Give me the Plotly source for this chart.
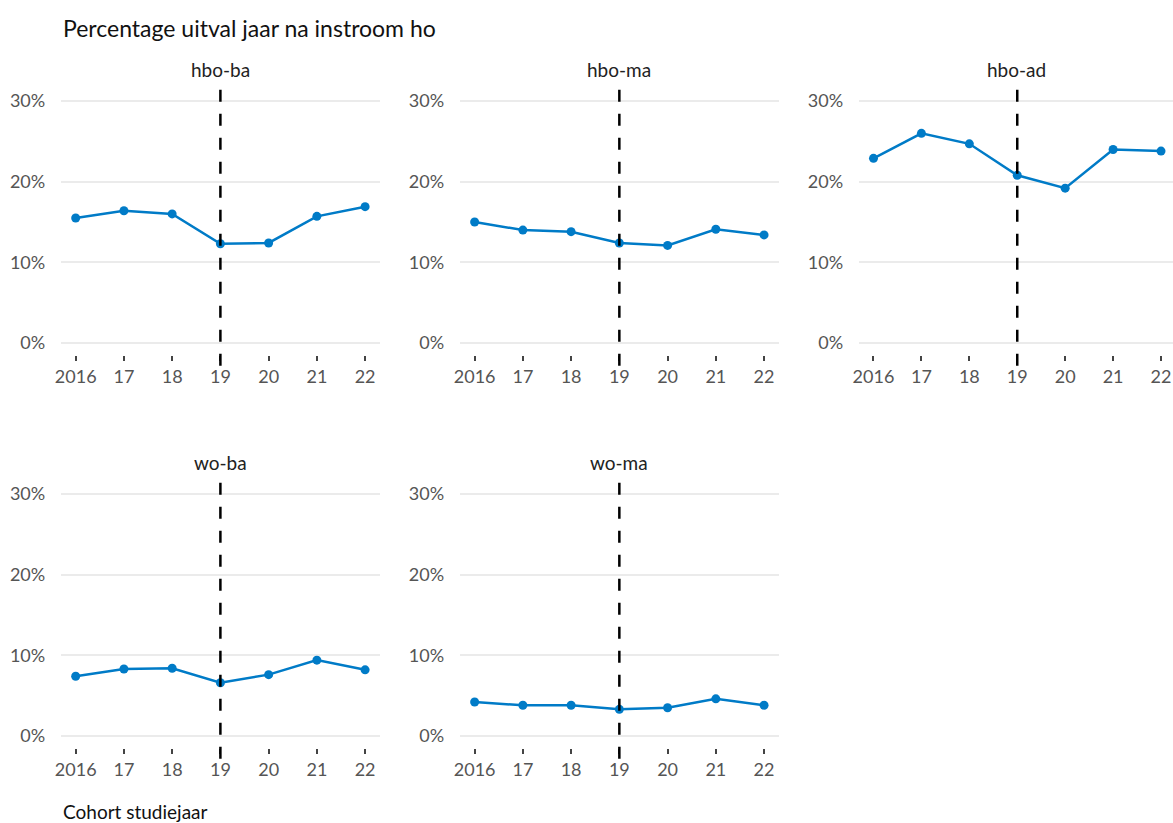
import plotly.graph_objects as go

years = [2016, 2017, 2018, 2019, 2020, 2021, 2022]
year_labels = ["2016", "17", "18", "19", "20", "21", "22"]
panels = ["hbo-ba", "hbo-ma", "hbo-ad", "wo-ba", "wo-ma"]

hbo_ba = [15.5, 16.4, 16.0, 12.3, 12.4, 15.7, 16.9]
hbo_ma = [15.0, 14.0, 13.8, 12.4, 12.1, 14.1, 13.4]
hbo_ad = [22.9, 26.0, 24.7, 20.8, 19.2, 24.0, 23.8]
wo_ba = [7.4, 8.3, 8.4, 6.6, 7.6, 9.4, 8.2]
wo_ma = [4.2, 3.8, 3.8, 3.3, 3.5, 4.6, 3.8]
series = [hbo_ba, hbo_ma, hbo_ad, wo_ba, wo_ma]

y_ticks = [0, 10, 20, 30]
y_tick_labels = ["0%", "10%", "20%", "30%"]
cutoff_year = 2019

title_text = "Percentage uitval jaar na instroom ho"
x_title = "Cohort studiejaar"

W, H = 1173, 823
FONT = "Lato"
BLUE = "#007BC7"

def px_x(p):
    return p / W

def px_y(p):
    return 1 - p / H

col_dom = [
    [px_x(55.5), px_x(375.5)],
    [px_x(456.5), px_x(776.5)],
    [px_x(857.5), 1.0],
]
row_dom = [
    [px_y(355), px_y(89)],
    [px_y(748), px_y(482)],
]
positions = [(0, 0), (0, 1), (0, 2), (1, 0), (1, 1)]

fig = go.Figure()
layout = {}
for i, (name, vals) in enumerate(zip(panels, series)):
    r, c = positions[i]
    n = "" if i == 0 else str(i + 1)
    fig.add_trace(go.Scatter(
        x=years, y=vals, mode="lines+markers",
        line=dict(color=BLUE, width=2.5),
        marker=dict(color=BLUE, size=9),
        xaxis="x" + n, yaxis="y" + n, showlegend=False,
        hoverinfo="x+y",
    ))
    xr = [2015.7, 2022.3] if c < 2 else [2015.7, 2022.25]
    layout["xaxis" + n] = dict(
        domain=col_dom[c], range=xr, anchor="y" + n,
        tickmode="array", tickvals=years, ticktext=year_labels,
        ticks="outside", ticklen=5, tickwidth=2, tickcolor="#444",
        showgrid=False, zeroline=False, showline=False,
        tickfont=dict(family=FONT, size=18, color="#555"),
        fixedrange=True,
    )
    layout["yaxis" + n] = dict(
        domain=row_dom[r], range=[-1.5, 31.5], anchor="x" + n,
        tickmode="array", tickvals=y_ticks, ticktext=y_tick_labels,
        showgrid=True, gridcolor="#EBEBEB", gridwidth=2,
        zeroline=False, showline=False, ticks="",
        ticklabelstandoff=15,
        tickfont=dict(family=FONT, size=18, color="#555"),
        fixedrange=True,
    )
    fig.add_shape(
        type="line", xref="x" + n, yref="y" + n + " domain",
        x0=cutoff_year, x1=cutoff_year, y0=-0.04, y1=1.0,
        line=dict(color="black", width=2.5, dash="12px,12px"),
        layer="above",
    )
    fig.add_annotation(
        text=name, xref="x" + n + " domain", yref="paper",
        x=0.5, y=px_y(69 if r == 0 else 462), xanchor="center", yanchor="middle",
        showarrow=False, font=dict(family=FONT, size=19, color="#222"),
    )

fig.add_annotation(
    text=title_text, xref="paper", yref="paper",
    x=px_x(55), y=px_y(28), xanchor="left", yanchor="middle",
    showarrow=False, font=dict(family=FONT, size=23, color="#111"),
)
fig.add_annotation(
    text=x_title, xref="paper", yref="paper",
    x=px_x(55), y=px_y(811), xanchor="left", yanchor="middle",
    showarrow=False, font=dict(family=FONT, size=19, color="#111"),
)

fig.update_layout(
    width=W, height=H,
    margin=dict(l=0, r=0, t=0, b=0),
    paper_bgcolor="white", plot_bgcolor="white",
    **layout,
)

fig.write_html(
    "out.html",
    config={"displayModeBar": False},
    post_script="document.body.style.margin='0';document.body.style.overflow='hidden';",
)
